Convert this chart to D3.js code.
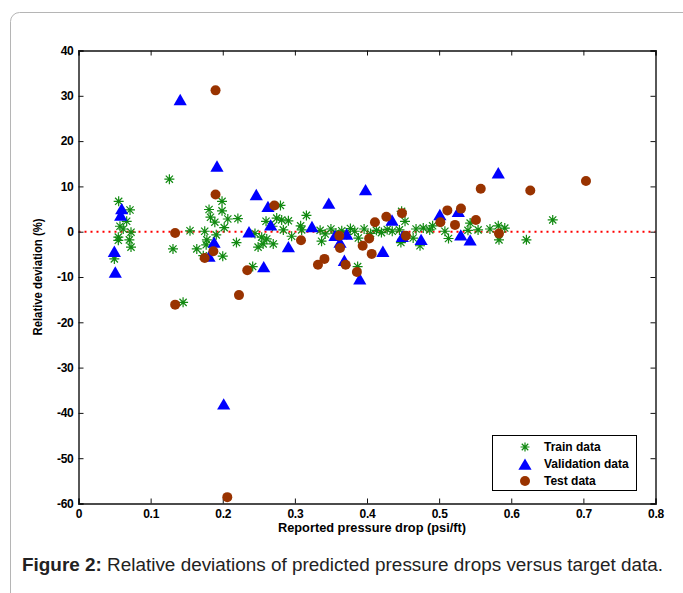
<!DOCTYPE html>
<html><head><meta charset="utf-8">
<script src="https://cdn.jsdelivr.net/npm/d3@7"></script>
<style>body{margin:0;background:#fff}svg{display:block}</style>
</head><body>
<svg id="c" width="683" height="593"></svg>
<script>
const xTicks=[0,0.1,0.2,0.3,0.4,0.5,0.6,0.7,0.8];
const yTicks=[40,30,20,10,0,-10,-20,-30,-40,-50,-60];
const seriesNames=["Train data","Validation data","Test data"];
const trainData=[[0.126,11.6],[0.0557,6.7],[0.0714,4.8],[0.0668,2.3],[0.0575,1.2],[0.062,0.6],[0.0728,-0.1],[0.0552,-1.2],[0.0552,-1.9],[0.0705,-1.8],[0.0728,-3.4],[0.0497,-6.0],[0.131,-3.8],[0.1546,0.2],[0.145,-15.6],[0.181,4.9],[0.199,6.7],[0.199,4.6],[0.183,3.2],[0.189,2.1],[0.207,2.8],[0.202,0.9],[0.221,2.9],[0.175,0.1],[0.178,-1.8],[0.177,-2.9],[0.164,-3.8],[0.173,-5.3],[0.200,-5.4],[0.219,-2.4],[0.191,-0.7],[0.280,5.8],[0.316,3.6],[0.2415,-7.7],[0.260,2.3],[0.2748,3.0],[0.2817,2.6],[0.291,2.4],[0.269,1.2],[0.254,-1.2],[0.261,-1.6],[0.249,-3.4],[0.256,-2.7],[0.270,-2.7],[0.284,0.4],[0.2955,-1.0],[0.308,1.3],[0.3094,0.4],[0.2447,-0.4],[0.337,-2.1],[0.335,0.3],[0.342,-0.5],[0.350,0.6],[0.357,-0.3],[0.365,0.2],[0.372,-0.6],[0.377,0.7],[0.383,0.1],[0.396,0.6],[0.405,-0.4],[0.413,0.3],[0.420,-0.2],[0.428,0.5],[0.435,0.1],[0.387,-7.7],[0.388,-1.4],[0.4527,2.3],[0.448,4.5],[0.445,0.4],[0.447,-2.4],[0.464,-1.4],[0.468,0.6],[0.4735,-3.1],[0.478,0.8],[0.491,1.3],[0.487,0.4],[0.513,-1.5],[0.508,0.1],[0.543,1.9],[0.540,0.3],[0.554,0.4],[0.5705,0.6],[0.582,1.3],[0.591,0.8],[0.583,-1.8],[0.6575,2.6],[0.621,-1.8]];
const validationData=[[0.0599,4.9],[0.0585,3.5],[0.0497,-4.5],[0.051,-9.1],[0.141,29.0],[0.192,14.3],[0.188,-2.5],[0.181,-5.6],[0.2013,-38.2],[0.2465,8.0],[0.2627,5.4],[0.347,6.1],[0.398,9.1],[0.2364,-0.2],[0.2665,1.3],[0.3237,0.95],[0.291,-3.5],[0.2568,-7.9],[0.3556,-1.0],[0.3718,-0.7],[0.3626,-2.5],[0.3686,-6.5],[0.390,-10.6],[0.422,-4.5],[0.4347,2.4],[0.582,12.8],[0.501,3.6],[0.5266,4.3],[0.449,-1.2],[0.475,-1.9],[0.530,-0.9],[0.543,-2.0]];
const testData=[[0.19,31.2],[0.19,8.2],[0.134,-0.3],[0.187,-4.3],[0.175,-5.8],[0.134,-16.1],[0.2225,-14.0],[0.2715,5.8],[0.3085,-1.9],[0.234,-8.5],[0.341,-6.0],[0.332,-7.3],[0.3616,-0.9],[0.3626,-3.6],[0.3704,-7.3],[0.386,-8.9],[0.394,-3.1],[0.403,-1.5],[0.4065,-4.9],[0.411,2.1],[0.4268,3.3],[0.4485,4.1],[0.454,-0.9],[0.5114,4.7],[0.5303,5.1],[0.5017,2.1],[0.522,1.5],[0.551,2.6],[0.583,-0.4],[0.5577,9.5],[0.6264,9.1],[0.7036,11.2],[0.2063,-58.6]];

const svg=d3.select("#c");
const L=78.5,R=655.5,T=50.5,B=503.5;
const x=d3.scaleLinear().domain([0,0.8]).range([L,R]);
const y=d3.scaleLinear().domain([-60,40]).range([B,T]);
const font="'Liberation Sans', Arial, sans-serif";
const green="#118a11",blue="#0000ff",brown="#993300";

// outer frame
svg.append("rect").attr("x",10.5).attr("y",12.5).attr("width",700).attr("height",620).attr("rx",9)
  .attr("fill","none").attr("stroke","#b5b5b5").attr("stroke-width",1);

// zero line
svg.append("line").attr("x1",x(0)).attr("x2",x(0.8)).attr("y1",y(0)).attr("y2",y(0))
  .attr("stroke","#ff0000").attr("stroke-width",2).attr("stroke-dasharray","2,4");

// axes
const tl=5;
const ax=svg.append("g");
ax.append("g").attr("transform",`translate(0,${B})`)
  .call(d3.axisBottom(x).tickValues(xTicks).tickSize(-tl).tickPadding(6).tickFormat(d=>d===0?"0":d3.format(".1f")(d)));
ax.append("g").attr("transform",`translate(0,${T})`)
  .call(d3.axisTop(x).tickValues(xTicks).tickSize(-tl).tickFormat(""));
ax.append("g").attr("transform",`translate(${L},0)`)
  .call(d3.axisLeft(y).tickValues(yTicks).tickSize(-tl).tickPadding(5).tickFormat(d=>String(d)));
ax.append("g").attr("transform",`translate(${R},0)`)
  .call(d3.axisRight(y).tickValues(yTicks).tickSize(-tl).tickFormat(""));
ax.selectAll(".domain").attr("stroke","#111").attr("stroke-width",1.4);
ax.selectAll(".tick line").attr("stroke","#111").attr("stroke-width",1);
ax.selectAll(".tick text").attr("font-family",font).attr("font-weight","bold").attr("font-size","12px").attr("fill","#000").attr("letter-spacing","-0.3px");

// markers
const star=(g,cx,cy,s)=>{
  const r=s/2,d=r*0.72;
  g.append("path").attr("d",`M${cx-r},${cy}L${cx+r},${cy}M${cx},${cy-r}L${cx},${cy+r}M${cx-d},${cy-d}L${cx+d},${cy+d}M${cx-d},${cy+d}L${cx+d},${cy-d}`)
   .attr("stroke",green).attr("stroke-width",1.2).attr("fill","none");
};
const tri=(g,cx,cy,s)=>{
  g.append("path").attr("d",`M${cx},${cy-s*0.55}L${cx+s*0.55},${cy+s*0.4}L${cx-s*0.55},${cy+s*0.4}Z`).attr("fill",blue);
};
const dot=(g,cx,cy,r)=>{
  g.append("circle").attr("cx",cx).attr("cy",cy).attr("r",r).attr("fill",brown);
};
const pg=svg.append("g");
trainData.forEach(d=>star(pg,x(d[0]),y(d[1]),10));
validationData.forEach(d=>tri(pg,x(d[0]),y(d[1]),12));
testData.forEach(d=>dot(pg,x(d[0]),y(d[1]),5));

// axis labels
svg.append("text").attr("x",372).attr("y",532).attr("text-anchor","middle")
  .attr("font-family",font).attr("font-weight","bold").attr("font-size","12.5px").attr("textLength",188).attr("lengthAdjust","spacingAndGlyphs").text("Reported pressure drop (psi/ft)");
svg.append("text").attr("transform",`translate(42,${(T+B)/2}) rotate(-90)`).attr("text-anchor","middle")
  .attr("font-family",font).attr("font-weight","bold").attr("font-size","12px").attr("textLength",117).attr("lengthAdjust","spacingAndGlyphs").text("Relative deviation (%)");

// legend
const lg=svg.append("g");
lg.append("rect").attr("x",492.5).attr("y",435.5).attr("width",144).attr("height",55).attr("fill","#fff").attr("stroke","#000").attr("stroke-width",1);
const rows=[447,464,481];
star(lg,525,rows[0],9); tri(lg,525,rows[1]+1,12); dot(lg,525,rows[2],5);
seriesNames.forEach((n,i)=>lg.append("text").attr("x",544).attr("y",rows[i]+4).attr("font-family",font).attr("font-weight","bold").attr("font-size","12px").text(n));

// caption
const cap=svg.append("text").attr("x",22).attr("y",571).attr("font-family",font).attr("font-size","17.5px").attr("fill","#222")
  .attr("textLength",641).attr("lengthAdjust","spacingAndGlyphs");
cap.append("tspan").attr("font-weight","bold").text("Figure 2:");
cap.append("tspan").text(" Relative deviations of predicted pressure drops versus target data.");
</script>
</body></html>
